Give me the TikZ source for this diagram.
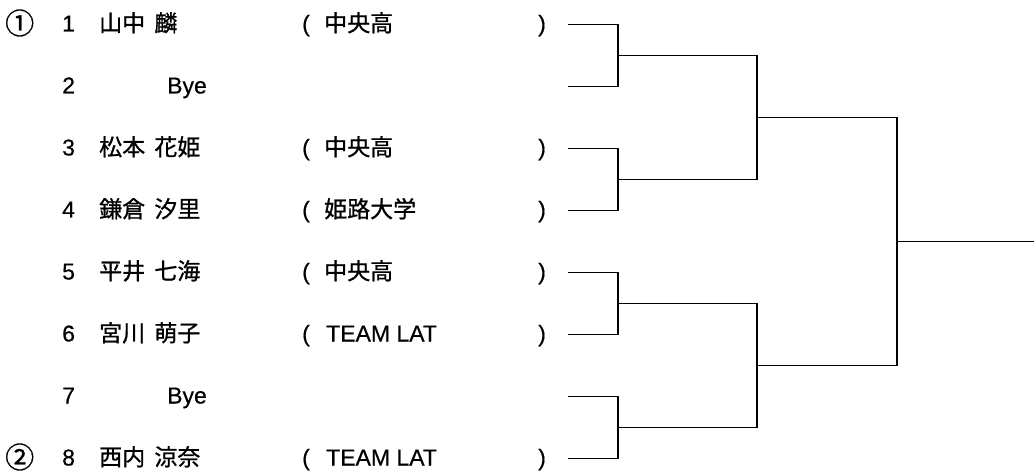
\documentclass[tikz,border=0pt]{standalone}
\usepackage{fontspec}
\setmainfont[FakeBold=0.5]{Liberation Sans}
\newfontfamily\jpfont[FakeBold=0.9]{Noto Sans CJK JP}
\newcommand\gap{\hspace{.4em}}

\begin{document}
\begin{tikzpicture}[x=1pt,y=-1pt]
        \tikzstyle{every node}=[inner sep=0pt, anchor=base west, font=\fontsize{23}{23}\selectfont]
        \tikzstyle{seed}=[font=\fontsize{29}{29}\selectfont\jpfont]
        \tikzstyle{player}=[font=\fontsize{23}{23}\selectfont\jpfont]
        \tikzstyle{line}=[line width=1.5pt]
        \useasboundingbox (0,0) rectangle (1034,473);

        % entries
        \node (s1) [seed]   at (5,34)     {①};
        \node (n1)          at (62,31.5)  {1};
        \node (p1) [player] at (99,31.5)  {山中\gap 麟};
        \node (o1)          at (302,31.5) {(};
        \node (t1) [player] at (324,31.5) {中央高};
        \node (c1)          at (538,31.5) {)};

        \node (n2)          at (62,93.5)  {2};
        \node (p2)          at (167,93.5) {Bye};

        \node (n3)          at (62,155.5) {3};
        \node (p3) [player] at (99,155.5) {松本\gap 花姫};
        \node (o3)          at (302,155.5) {(};
        \node (t3) [player] at (324,155.5) {中央高};
        \node (c3)          at (538,155.5) {)};

        \node (n4)          at (62,217.5) {4};
        \node (p4) [player] at (99,217.5) {鎌倉\gap 汐里};
        \node (o4)          at (302,217.5) {(};
        \node (t4) [player] at (324,217.5) {姫路大学};
        \node (c4)          at (538,217.5) {)};

        \node (n5)          at (62,279.5) {5};
        \node (p5) [player] at (99,279.5) {平井\gap 七海};
        \node (o5)          at (302,279.5) {(};
        \node (t5) [player] at (324,279.5) {中央高};
        \node (c5)          at (538,279.5) {)};

        \node (n6)          at (62,341.5) {6};
        \node (p6) [player] at (99,341.5) {宮川\gap 萌子};
        \node (o6)          at (302,341.5) {(};
        \node (t6)          at (326,341.5) {TEAM LAT};
        \node (c6)          at (538,341.5) {)};

        \node (n7)          at (62,403.5) {7};
        \node (p7)          at (167,403.5) {Bye};

        \node (s8) [seed]   at (5,468)    {②};
        \node (n8)          at (62,465.5) {8};
        \node (p8) [player] at (99,465.5) {西内\gap 涼奈};
        \node (o8)          at (302,465.5) {(};
        \node (t8)          at (326,465.5) {TEAM LAT};
        \node (c8)          at (538,465.5) {)};

        % bracket
        \coordinate (r1) at (568,24.5);
        \coordinate (r2) at (568,86.5);
        \coordinate (r3) at (568,148.5);
        \coordinate (r4) at (568,210.5);
        \coordinate (r5) at (568,272.5);
        \coordinate (r6) at (568,334.5);
        \coordinate (r7) at (568,396.5);
        \coordinate (r8) at (568,458.5);
        \coordinate (m1) at (618,55.5);
        \coordinate (m2) at (618,179.5);
        \coordinate (m3) at (618,303.5);
        \coordinate (m4) at (618,427.5);
        \coordinate (q1) at (757,117.5);
        \coordinate (q2) at (757,365.5);
        \coordinate (f)  at (897,241.5);
        \coordinate (w)  at (1034,241.5);

        \draw[line] (r1) -| (m1) |- (r2);
        \draw[line] (r3) -| (m2) |- (r4);
        \draw[line] (r5) -| (m3) |- (r6);
        \draw[line] (r7) -| (m4) |- (r8);
        \draw[line] (m1) -| (q1) |- (m2);
        \draw[line] (m3) -| (q2) |- (m4);
        \draw[line] (q1) -| (f) |- (q2);
        \draw[line] (f) -- (w);
\end{tikzpicture}
\end{document}
